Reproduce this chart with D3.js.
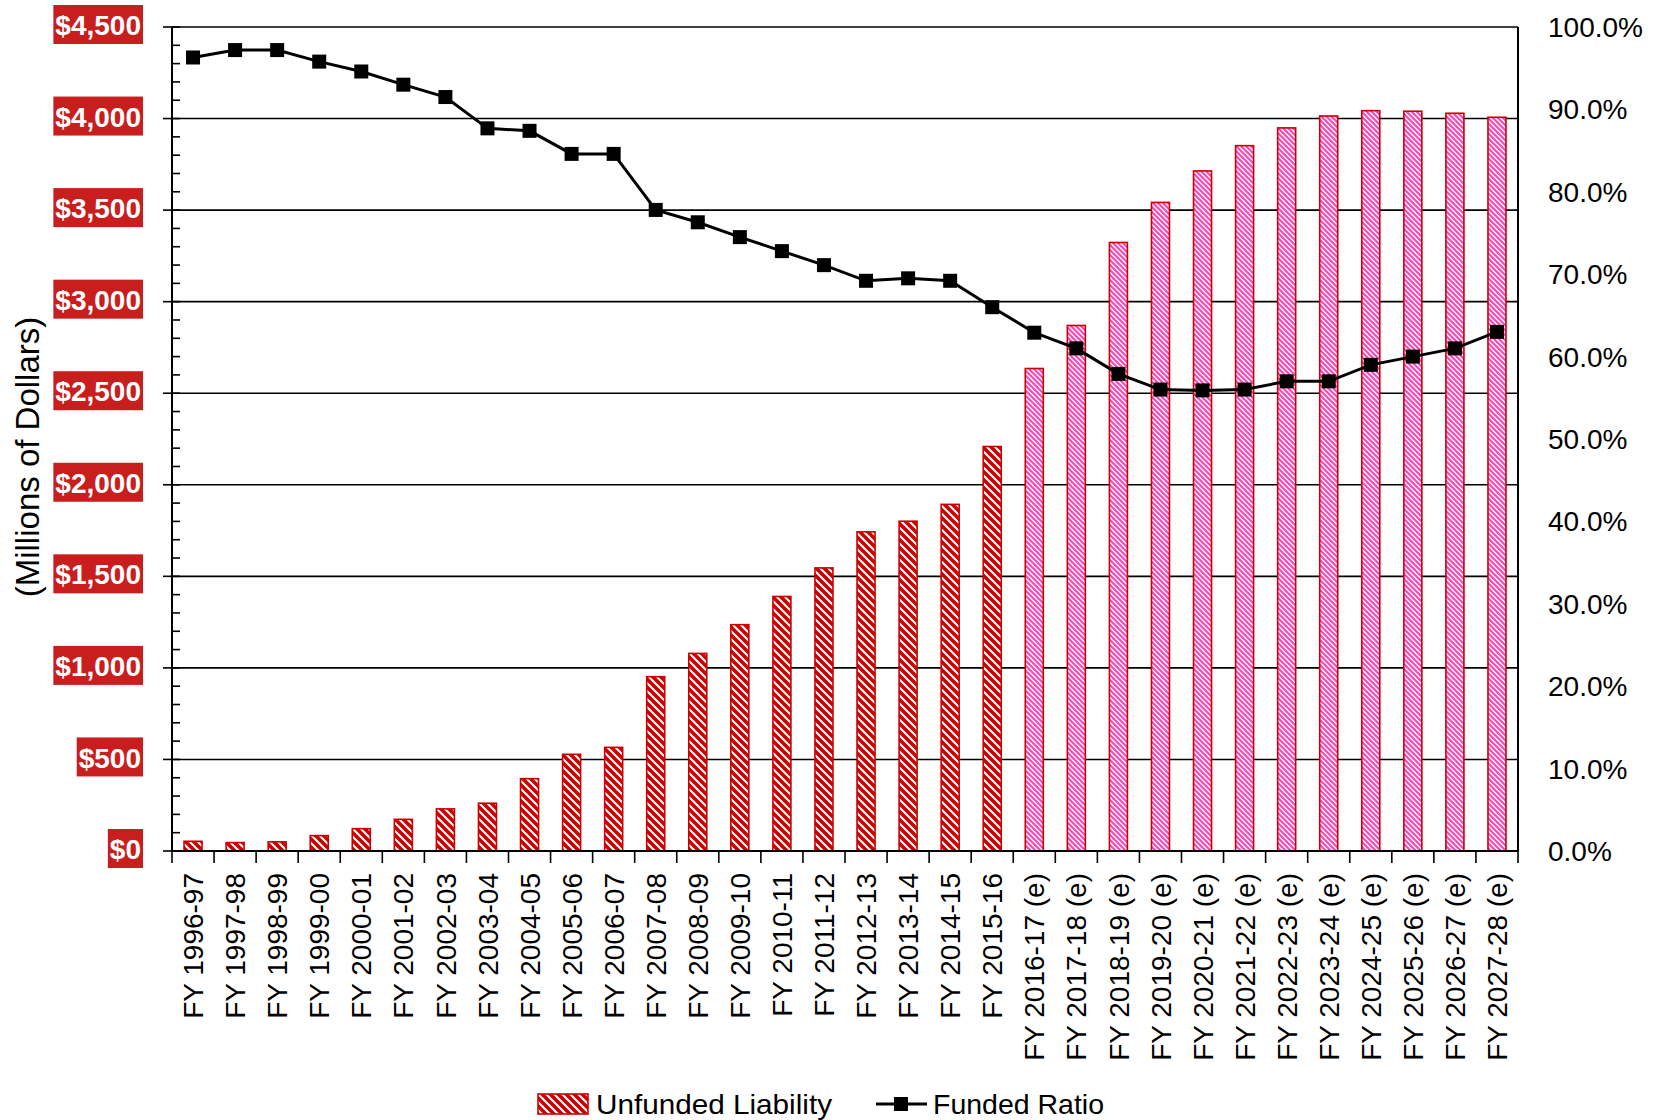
<!DOCTYPE html>
<html>
<head>
<meta charset="utf-8">
<script src="https://cdn.jsdelivr.net/npm/d3@7"></script>
<style>
  html, body { margin: 0; padding: 0; background: #fff; }
  svg { display: block; }
  text { font-family: "Liberation Sans", Arial, sans-serif; }
</style>
</head>
<body>
<svg id="chart" width="1662" height="1120"></svg>
<script>
// ---- Data ----
const categories = [
  "FY 1996-97","FY 1997-98","FY 1998-99","FY 1999-00","FY 2000-01","FY 2001-02",
  "FY 2002-03","FY 2003-04","FY 2004-05","FY 2005-06","FY 2006-07","FY 2007-08",
  "FY 2008-09","FY 2009-10","FY 2010-11","FY 2011-12","FY 2012-13","FY 2013-14",
  "FY 2014-15","FY 2015-16","FY 2016-17 (e)","FY 2017-18 (e)","FY 2018-19 (e)",
  "FY 2019-20 (e)","FY 2020-21 (e)","FY 2021-22 (e)","FY 2022-23 (e)","FY 2023-24 (e)",
  "FY 2024-25 (e)","FY 2025-26 (e)","FY 2026-27 (e)","FY 2027-28 (e)"
];
const estimated = categories.map(c => c.endsWith("(e)"));
const unfundedLiability = [
  53, 46, 50, 84, 122, 173, 230, 261, 395, 528, 566, 952,
  1079, 1236, 1390, 1546, 1743, 1801, 1893, 2209, 2635, 2870, 3323,
  3542, 3714, 3852, 3949, 4014, 4043, 4040, 4029, 4007
];
const fundedRatio = [
  0.963, 0.972, 0.972, 0.958, 0.946, 0.930, 0.915, 0.877, 0.874, 0.846, 0.846, 0.778,
  0.763, 0.745, 0.728, 0.711, 0.692, 0.695, 0.692, 0.660, 0.629, 0.610, 0.579,
  0.560, 0.559, 0.560, 0.570, 0.570, 0.590, 0.600, 0.610, 0.630
];
const leftTicks = [0, 500, 1000, 1500, 2000, 2500, 3000, 3500, 4000, 4500];
const rightTicks = [0, 0.1, 0.2, 0.3, 0.4, 0.5, 0.6, 0.7, 0.8, 0.9, 1.0];
const seriesNames = ["Unfunded Liability", "Funded Ratio"];
const yTitle = "(Millions of Dollars)";

// ---- Layout ----
const svg = d3.select("#chart");
const L = 172, R = 1518, T = 27, B = 851;
const RED = "#cc0000", PINK = "#ff45b9", BOX = "#c81e1e";

const x = d3.scaleBand().domain(categories).range([L, R]).paddingInner(0.572).paddingOuter(0.286);
const y = d3.scaleLinear().domain([0, 4500]).range([B, T]);
const y2 = d3.scaleLinear().domain([0, 1]).range([B, T]);

// ---- Patterns ----
const defs = svg.append("defs");
function stripes(id, size, color, sw) {
  const p = defs.append("pattern").attr("id", id).attr("patternUnits", "userSpaceOnUse")
    .attr("width", size).attr("height", size);
  p.append("rect").attr("width", size).attr("height", size).attr("fill", "#fff");
  p.append("path")
    .attr("d", `M${-size/2},${-size/2} L${size*1.5},${size*1.5} M${-size/2},${size/2} L${size/2},${size*1.5} M${size/2},${-size/2} L${size*1.5},${size/2}`)
    .attr("stroke", color).attr("stroke-width", sw);
}
stripes("redStripes", 8, RED, 3.6);
stripes("pinkStripes", 5, PINK, 2.1);

// ---- Gridlines ----
svg.append("g").selectAll("line").data(leftTicks.filter(v => v > 0))
  .join("line")
  .attr("x1", L).attr("x2", R)
  .attr("y1", d => y(d)).attr("y2", d => y(d))
  .attr("stroke", "#000").attr("stroke-width", 1.6);

// right frame
svg.append("line").attr("x1", R).attr("x2", R).attr("y1", T).attr("y2", B)
  .attr("stroke", "#000").attr("stroke-width", 2);

// ---- Bars ----
svg.append("g").selectAll("rect").data(categories)
  .join("rect")
  .attr("x", d => x(d))
  .attr("width", x.bandwidth())
  .attr("y", (d, i) => y(unfundedLiability[i]))
  .attr("height", (d, i) => B - y(unfundedLiability[i]))
  .attr("fill", (d, i) => estimated[i] ? "url(#pinkStripes)" : "url(#redStripes)")
  .attr("stroke", RED).attr("stroke-width", 1.6);

// ---- Left axis ----
const minorTicks = d3.range(0, 4501, 100).filter(v => v % 500 !== 0);
svg.append("g").selectAll("line").data(minorTicks).join("line")
  .attr("x1", L).attr("x2", L + 8).attr("y1", d => y(d)).attr("y2", d => y(d))
  .attr("stroke", "#000").attr("stroke-width", 1.6);
svg.append("g").selectAll("line").data(leftTicks).join("line")
  .attr("x1", L - 9).attr("x2", L + 8).attr("y1", d => y(d)).attr("y2", d => y(d))
  .attr("stroke", "#000").attr("stroke-width", 1.6);
svg.append("line").attr("x1", L).attr("x2", L).attr("y1", T).attr("y2", B)
  .attr("stroke", "#000").attr("stroke-width", 2);

const fmt = d3.format("$,");
const lblG = svg.append("g");
leftTicks.forEach(v => {
  const g = lblG.append("g");
  const rect = g.append("rect").attr("fill", BOX);
  const t = g.append("text")
    .attr("x", 141).attr("y", y(v) - 2).attr("dy", "0.36em")
    .attr("text-anchor", "end").attr("font-weight", "bold")
    .attr("font-size", 28).attr("fill", "#fff").text(fmt(v));
  const bb = t.node().getBBox();
  rect.attr("x", bb.x - 2).attr("width", bb.width + 4)
    .attr("y", y(v) - 22).attr("height", 39);
});

// y title
svg.append("text")
  .attr("transform", `translate(39,457) rotate(-90)`)
  .attr("text-anchor", "middle").attr("font-size", 33).attr("fill", "#000")
  .text(yTitle);

// ---- Right axis labels ----
svg.append("g").selectAll("text").data(rightTicks).join("text")
  .attr("x", 1548).attr("y", d => y2(d)).attr("dy", "0.36em")
  .attr("font-size", 28).attr("fill", "#000")
  .text(d3.format(".1%"));

// ---- Bottom axis ----
svg.append("line").attr("x1", L).attr("x2", R).attr("y1", B).attr("y2", B)
  .attr("stroke", "#000").attr("stroke-width", 2);
const step = x.step();
svg.append("g").selectAll("line").data(d3.range(categories.length + 1)).join("line")
  .attr("x1", i => L + i * step).attr("x2", i => L + i * step)
  .attr("y1", B).attr("y2", B + 12)
  .attr("stroke", "#000").attr("stroke-width", 1.6);
svg.append("g").selectAll("text").data(categories).join("text")
  .attr("transform", d => `translate(${x(d) + x.bandwidth() / 2},873) rotate(-90)`)
  .attr("dy", "0.36em").attr("text-anchor", "end")
  .attr("font-size", 28).attr("fill", "#000").text(d => d);

// ---- Line ----
const line = d3.line().x((d, i) => x(categories[i]) + x.bandwidth() / 2).y(d => y2(d));
svg.append("path").datum(fundedRatio).attr("d", line)
  .attr("fill", "none").attr("stroke", "#000").attr("stroke-width", 3);
svg.append("g").selectAll("rect").data(fundedRatio).join("rect")
  .attr("x", (d, i) => x(categories[i]) + x.bandwidth() / 2 - 7)
  .attr("y", d => y2(d) - 7).attr("width", 14).attr("height", 14).attr("fill", "#000");

// ---- Legend ----
const lg = svg.append("g");
lg.append("rect").attr("x", 538).attr("y", 1094).attr("width", 50).attr("height", 20)
  .attr("fill", "url(#redStripes)").attr("stroke", RED).attr("stroke-width", 1.6);
lg.append("text").attr("x", 596).attr("y", 1104).attr("dy", "0.36em")
  .attr("font-size", 28).attr("textLength", 236).attr("lengthAdjust", "spacingAndGlyphs")
  .text(seriesNames[0]);
lg.append("line").attr("x1", 876).attr("x2", 927).attr("y1", 1104).attr("y2", 1104)
  .attr("stroke", "#000").attr("stroke-width", 3);
lg.append("rect").attr("x", 894).attr("y", 1097).attr("width", 14).attr("height", 14).attr("fill", "#000");
lg.append("text").attr("x", 933).attr("y", 1104).attr("dy", "0.36em")
  .attr("font-size", 28).attr("textLength", 171).attr("lengthAdjust", "spacingAndGlyphs")
  .text(seriesNames[1]);
</script>
</body>
</html>
